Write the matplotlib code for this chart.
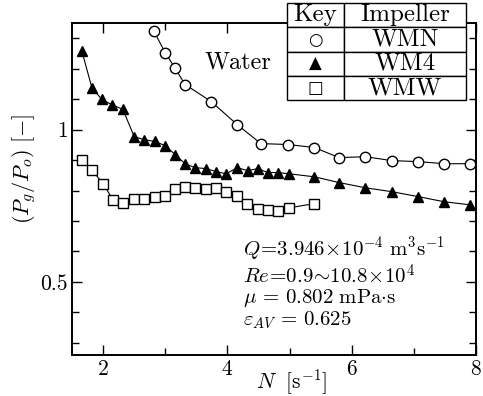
import matplotlib
matplotlib.use("Agg")
import matplotlib.pyplot as plt
from matplotlib.ticker import MultipleLocator, FixedLocator

plt.rcParams['font.family'] = 'serif'
plt.rcParams['font.serif'] = ['cmr10']
plt.rcParams['mathtext.fontset'] = 'cm'
plt.rcParams['axes.formatter.use_mathtext'] = True
plt.rcParams['axes.unicode_minus'] = False

# WMN (open circles)
n_wmn = [2.82, 3.00, 3.16, 3.32, 3.74, 4.16, 4.54, 4.98, 5.40, 5.80, 6.22, 6.65, 7.07, 7.49, 7.91]
p_wmn = [1.322, 1.253, 1.201, 1.148, 1.092, 1.016, 0.954, 0.951, 0.941, 0.908, 0.911, 0.898,
         0.895, 0.888, 0.888]

# WM4 (filled triangles)
n_wm4 = [1.66, 1.82, 1.98, 2.14, 2.32, 2.50, 2.66, 2.84, 3.00, 3.16, 3.32, 3.48, 3.66, 3.82,
         3.98, 4.16, 4.33, 4.49, 4.65, 4.82, 4.99, 5.40, 5.80, 6.22, 6.65, 7.07, 7.49, 7.91]
p_wm4 = [1.257, 1.138, 1.099, 1.082, 1.066, 0.977, 0.967, 0.961, 0.947, 0.918, 0.888, 0.875,
         0.872, 0.862, 0.855, 0.875, 0.865, 0.872, 0.859, 0.859, 0.855, 0.845, 0.826, 0.809,
         0.796, 0.780, 0.763, 0.753]

# WMW (open squares)
n_wmw = [1.66, 1.82, 2.00, 2.16, 2.32, 2.50, 2.66, 2.84, 3.00, 3.16, 3.32, 3.48, 3.66, 3.82,
         3.98, 4.16, 4.32, 4.49, 4.65, 4.82, 4.99, 5.40]
p_wmw = [0.901, 0.868, 0.822, 0.770, 0.760, 0.773, 0.773, 0.780, 0.783, 0.806, 0.812, 0.809,
         0.806, 0.809, 0.796, 0.783, 0.757, 0.740, 0.737, 0.734, 0.743, 0.757]

key_header = ['Key', 'Impeller']
key_symbols = ['\u25cb', '\u25b2', '\u25a1']
impellers = ['WMN', 'WM4', 'WMW']

conditions = [r'$Q\!=\!3.946\!\times\!10^{-4}\ \mathrm{m^3s^{-1}}$',
              r'$Re\!=\!0.9\!\sim\!10.8\!\times\!10^4$',
              r'$\mu\,=\,0.802\ \mathrm{mPa{\cdot}s}$',
              r'$\varepsilon_{AV}\,=\,0.625$']

fig = plt.figure(figsize=(4.83, 3.96), dpi=100)
ax = fig.add_axes([0.149, 0.1035, 0.8365, 0.8385])

ax.plot(n_wmn, p_wmn, '-', color='black', lw=0.8, marker='o', ms=7.5,
        mfc='white', mec='black', mew=1.0)
ax.plot(n_wm4, p_wm4, '-', color='black', lw=0.8, marker='^', ms=7.5,
        mfc='black', mec='black')
ax.plot(n_wmw, p_wmw, '-', color='black', lw=0.8, marker='s', ms=7,
        mfc='white', mec='black', mew=1.0)

ax.set_xlim(1.5, 8)
ax.set_ylim(0.26, 1.35)
ax.xaxis.set_major_locator(FixedLocator([2, 4, 6, 8]))
ax.xaxis.set_minor_locator(MultipleLocator(1))
ax.yaxis.set_major_locator(FixedLocator([0.5, 1]))
ax.yaxis.set_minor_locator(MultipleLocator(0.1))
ax.set_yticklabels(['0.5', '1'])
ax.tick_params(which='both', direction='in', top=True, right=True, labelsize=15.5)
ax.tick_params(which='major', length=7, width=1, pad=3)
ax.tick_params(which='minor', length=5, width=1)
for s in ax.spines.values():
    s.set_linewidth(1.4)

ax.set_xlabel(r'$N\ \ [\mathrm{s^{-1}}]$', fontsize=15.5, va='center')
ax.xaxis.set_label_coords(0.545, -0.082)
ax.set_ylabel(r'$(P_g/P_o)\ [-]$', fontsize=16, va='center')
ax.yaxis.set_label_coords(-0.118, 0.56)

ax.text(0.329, 0.88, 'Water', transform=ax.transAxes, fontsize=17.5, va='center')
# condition block as one multi-line text
ax.text(0.423, 0.217, '\n'.join(conditions), transform=ax.transAxes, fontsize=15,
        va='center', ha='left', linespacing=1.0)

# key table drawn on top of the frame
tax = fig.add_axes([0.594, 0.747, 0.371, 0.245])
tax.axis('off')
cells = [[s, name] for s, name in zip(key_symbols, impellers)]
tbl = tax.table(cellText=cells, colLabels=key_header, colWidths=[0.32, 0.68],
                cellLoc='center', bbox=[0, 0, 1, 1])
tbl.auto_set_font_size(False)
for (r, c), cell in tbl.get_celld().items():
    cell.set_linewidth(1.0)
    cell.set_facecolor('white')
    cell.get_text().set_fontsize(18)
    if c == 0 and r > 0:
        cell.get_text().set_family('DejaVu Sans')
        cell.get_text().set_fontsize(12)

fig.savefig('out.png', dpi=100)
